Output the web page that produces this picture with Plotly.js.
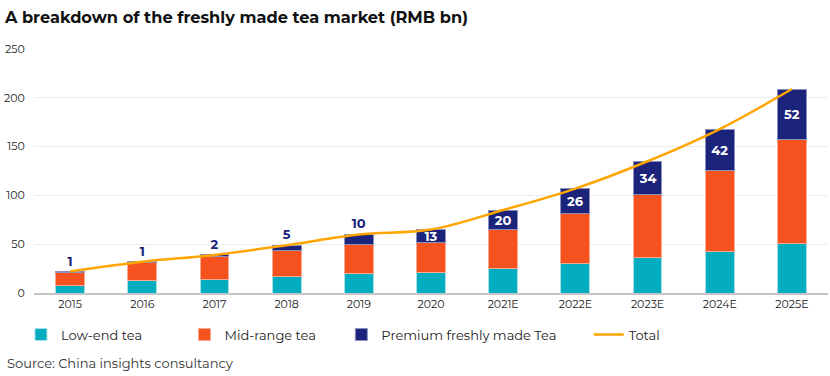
<!DOCTYPE html>
<html><head><meta charset="utf-8">
<script src="https://cdn.plot.ly/plotly-3.0.1.min.js"></script>
<style>html,body{margin:0;padding:0;background:#fff}#chart{width:830px;height:376px}</style>
</head><body><div id="chart"></div>
<script>
const years = ['2015','2016','2017','2018','2019','2020','2021E','2022E','2023E','2024E','2025E'];
const lowEnd = [8, 13, 14, 17, 20, 21, 25, 30, 36, 43, 51];
const midRange = [13, 18, 23, 27, 30, 31, 40, 51, 65, 83, 106];
const premium = [1, 1, 2, 5, 10, 13, 20, 26, 34, 42, 52];
const total = [22, 32, 39, 49, 60, 65, 85, 107, 135, 168, 209];
const premiumLabels = ['1','1','2','5','10','13','20','26','34','42','52'];
const seriesNames = ['Low-end tea', 'Mid-range tea', 'Premium freshly made Tea', 'Total'];

const FONT = 'Montserrat, "Open Sans", sans-serif';
const tickFont = {family: FONT, size: 11, color: '#222'};
const labelPos = premium.map(v => v < 12 ? 'outside' : 'inside');
const labelCol = premium.map(v => v < 12 ? '#1b237a' : '#ffffff');
const pad = n => '\u00a0'.repeat(n);

const traces = [
  {type: 'bar', name: seriesNames[0] + pad(11), x: years, y: lowEnd, marker: {color: '#03adbf', line: {color: '#a9dfe6', width: 1}}, width: 0.4},
  {type: 'bar', name: seriesNames[1] + pad(6), x: years, y: midRange, marker: {color: '#f55220', line: {color: '#f9a98f', width: 1}}, width: 0.4},
  {type: 'bar', name: seriesNames[2] + pad(8), x: years, y: premium, marker: {color: '#1b237a', line: {color: '#8c90bd', width: 1}}, width: 0.4,
   text: premiumLabels, textposition: labelPos, constraintext: 'none', cliponaxis: false, textangle: 0,
   insidetextanchor: 'middle',
   textfont: {family: FONT, size: 13, color: labelCol, weight: 700}},
  {type: 'scatter', mode: 'lines', name: seriesNames[3], x: years, y: total, line: {color: '#ffa500', width: 2.5, shape: 'spline', smoothing: 1}}
];

const layout = {
  width: 830, height: 376,
  margin: {l: 34, r: 2, t: 49, b: 83},
  paper_bgcolor: '#fff', plot_bgcolor: '#fff',
  barmode: 'stack',
  title: {text: '<b>A breakdown of the freshly made tea market (RMB bn)</b>', x: 0.006, xanchor: 'left', y: 0.955, yanchor: 'middle',
          font: {family: FONT, size: 16.2, color: '#111'}},
  xaxis: {type: 'category', tickfont: tickFont, showgrid: false, showline: true, linecolor: '#c4c4c4', linewidth: 1.5, ticks: '', zeroline: false},
  yaxis: {range: [0, 250], dtick: 50, tickfont: tickFont, showgrid: true, gridcolor: '#ececec', gridwidth: 1, zeroline: false, showline: false, ticks: 'outside', ticklen: 6, tickcolor: 'rgba(0,0,0,0)'},
  legend: {orientation: 'h', x: -0.0164, xanchor: 'left', y: -0.109, yanchor: 'top', font: {family: FONT, size: 13, color: '#222'}, itemwidth: 30, traceorder: 'normal'},
  showlegend: true,
  annotations: [{text: 'Source: China insights consultancy', xref: 'paper', yref: 'paper', x: -0.037, xanchor: 'left', y: -0.245, yanchor: 'top', showarrow: false,
                 font: {family: FONT, size: 13, color: '#333'}}]
};

Plotly.newPlot('chart', traces, layout, {displayModeBar: false, staticPlot: true});
</script></body></html>
